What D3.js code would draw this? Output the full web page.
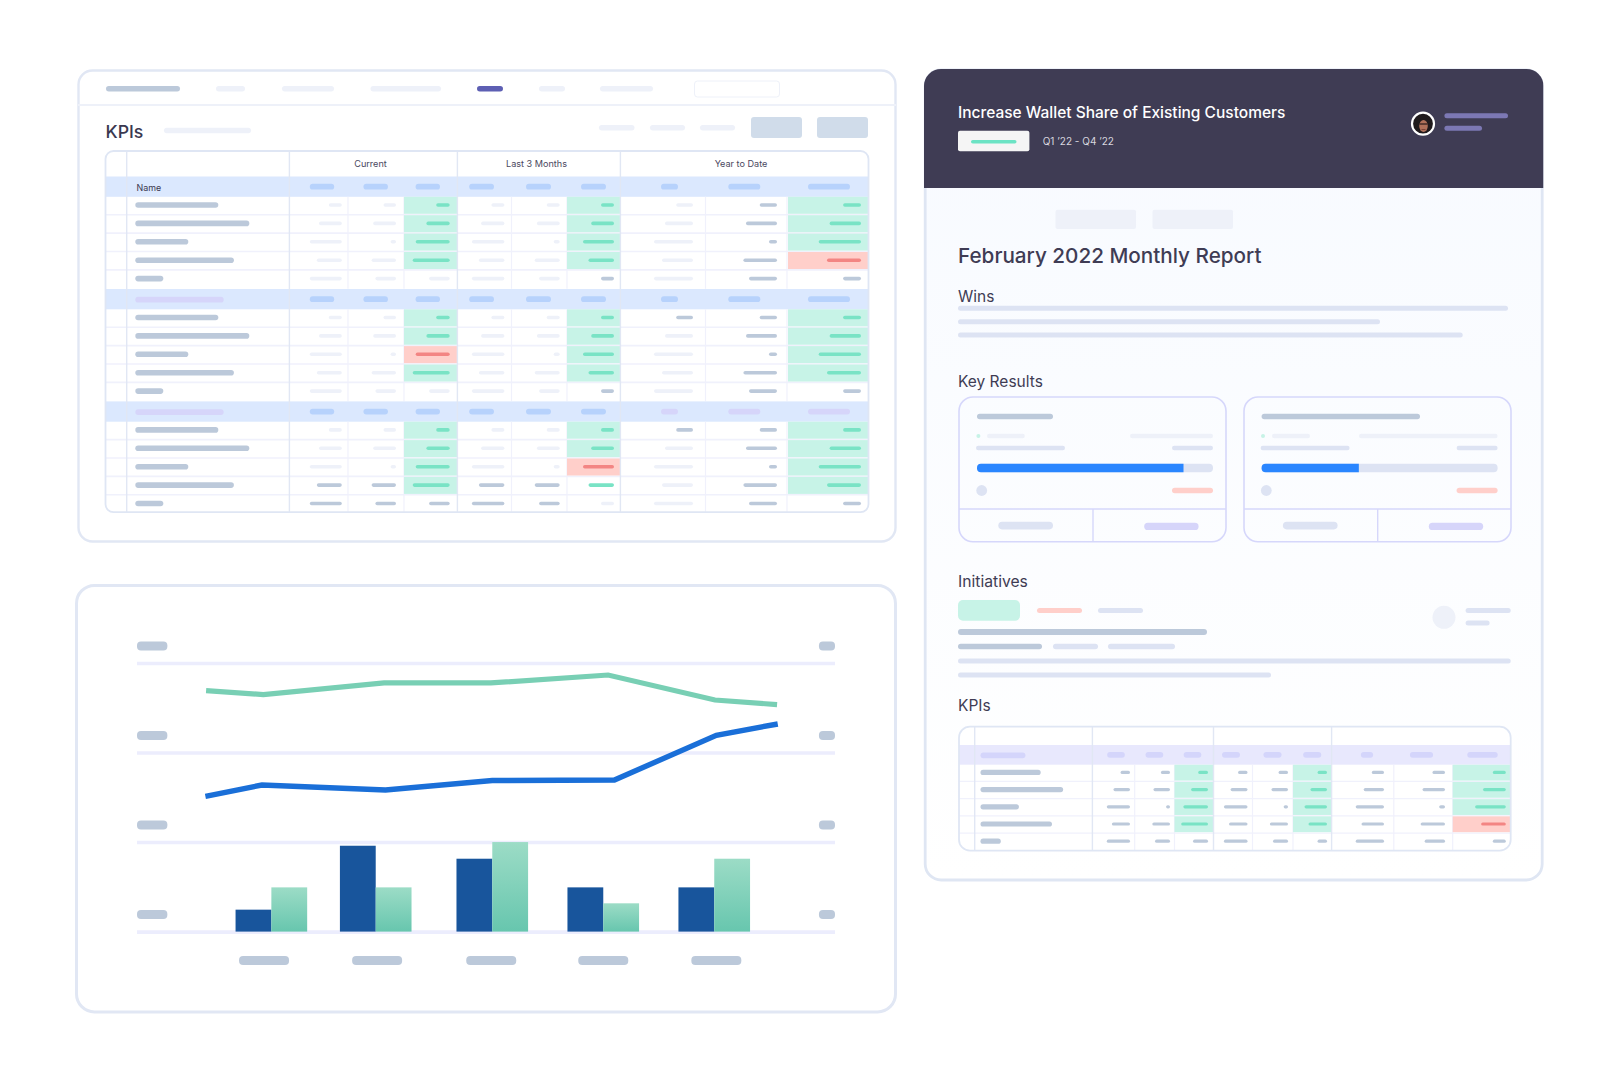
<!DOCTYPE html>
<html>
<head>
<meta charset="utf-8">
<title>KPIs</title>
<script src="https://cdn.jsdelivr.net/npm/d3@7"></script>
<style>
  html, body { margin: 0; padding: 0; background: #fff; }
  svg { display: block; }
  text { font-family: Inter, "Noto Sans", sans-serif; }
</style>
</head>
<body>
<svg id="chart" width="1620" height="1080"></svg>
<script>
// ---- data ----
var groupLabels = ["Current", "Last 3 Months", "Year to Date"];
var sectionTitles = ["Wins", "Key Results", "Initiatives", "KPIs"];

// chart panel
var yTicks = [0, 1, 2, 3];
var lineX = [9.9, 18.1, 35.4, 50.7, 67.5, 82.8, 91.7];
var blueX = [9.8, 17.9, 35.6, 50.9, 68.4, 83.0, 91.8];
var greenLine = [2.692, 2.647, 2.777, 2.777, 2.866, 2.587, 2.535];
var blueLine = [1.511, 1.637, 1.582, 1.687, 1.693, 2.193, 2.319];
var barCenters = [19.25, 34.2, 50.9, 66.8, 82.7];
var labelCenters = [18.2, 34.4, 50.75, 66.8, 83.0];
var darkBars = [0.245, 0.959, 0.814, 0.494, 0.494];
var lightBars = [0.494, 0.494, 1.0, 0.316, 0.814];

// table placeholders: text lengths per row and per column
var nameLengths = [83, 114, 53, 98.6, 28];
var cellLengths = [
  [13, 12.5, 13.5, 13, 13, 13, 16.8, 17.3, 17.9],
  [22.8, 22.8, 23.3, 23.3, 22.8, 22.8, 28, 31, 31.4],
  [32, 5.4, 34, 32.5, 6, 31, 39, 8, 42.3],
  [25, 24.4, 37, 25.5, 25, 25.5, 31, 33.6, 34],
  [32, 20.6, 20.6, 32.5, 20.6, 13, 39, 28, 17.9]
];
var headLengths = [24.4, 24.5, 24.4, 24.8, 25, 25, 17, 32, 42];

// cell states: l light, d dark, g green, r red, t teal bar with no fill
var statesA = ["llgllgldg", "llgllgldg", "llgllgldg", "llgllgldr", "llllldldd"];
var statesB = ["llgllgddg", "llgllgldg", "llrllgldg", "llgllgldg", "llllldldd"];
var statesC = ["llgllgddg", "llgllgldg", "llgllrldg", "ddgddtldg", "dddddlldd"];
var statesSmall = ["ddgddgddg", "ddgddgddg", "ddgddgddg", "ddgddgddr", "ddddddddd"];

// key result progress
var progress = [0.875, 0.412];

// ---- colours ----
var slate = "#bcc9da", pale = "#eef1f9", soft = "#dde3f3", lilac = "#d6d5fa";
var mint = "#c7f3e7", mintBar = "#79e3c5", pink = "#ffcfca", redBar = "#f38583";
var ink = "#3f3c54", edge = "#e1e7f4";

var svg = d3.select("#chart");
var defs = svg.append("defs");

function panel(x, y, w, h, r, fill, stroke, sw) {
  return svg.append("rect")
    .attr("x", x).attr("y", y).attr("width", w).attr("height", h)
    .attr("rx", r).attr("fill", fill).attr("stroke", stroke).attr("stroke-width", sw);
}

// a rounded placeholder bar, centred on yc
function pill(g, x0, x1, yc, h, fill) {
  return g.append("rect")
    .attr("x", x0).attr("y", yc - h / 2)
    .attr("width", x1 - x0).attr("height", h)
    .attr("rx", Math.min(h / 2, 3)).attr("fill", fill);
}

function label(g, str, x, y, size, weight, fill, anchor) {
  return g.append("text")
    .attr("x", x).attr("y", y)
    .attr("font-size", size).attr("font-weight", weight)
    .attr("fill", fill).attr("text-anchor", anchor || "start")
    .text(str);
}

function drawTable(o) {
  var g = svg.append("g");
  var clipId = "clip" + o.id;
  defs.append("clipPath").attr("id", clipId).append("rect")
    .attr("x", o.left).attr("y", o.top).attr("width", o.right - o.left)
    .attr("height", o.bottom - o.top).attr("rx", o.radius);

  g.append("rect")
    .attr("x", o.left).attr("y", o.top).attr("width", o.right - o.left)
    .attr("height", o.bottom - o.top).attr("rx", o.radius).attr("fill", "#fff");

  var inner = g.append("g").attr("clip-path", "url(#" + clipId + ")");
  var len = d3.scaleLinear().domain([0, 100]).range([0, 100 * o.scale]);

  o.groups.forEach(function (grp) {
    var bandBottom = grp.top + o.bandH;
    inner.append("rect")
      .attr("x", o.left).attr("y", grp.top).attr("width", o.right - o.left)
      .attr("height", o.bandH).attr("fill", o.bandFill);

    var row = d3.scaleBand().domain(d3.range(grp.states.length))
      .range([bandBottom, bandBottom + o.groupH]);

    // row rules
    d3.range(1, grp.states.length).forEach(function (i) {
      inner.append("line")
        .attr("x1", o.left).attr("x2", o.right)
        .attr("y1", row(i) - o.rowShift / 2).attr("y2", row(i) - o.rowShift / 2)
        .attr("stroke", "#f0f1fc").attr("stroke-width", o.ruleW);
    });

    // sub column rules
    o.subCols.forEach(function (x) {
      inner.append("line")
        .attr("x1", x).attr("x2", x)
        .attr("y1", bandBottom).attr("y2", bandBottom + o.groupH)
        .attr("stroke", "#f0f1fc").attr("stroke-width", 1.2);
    });

    grp.states.forEach(function (states, r) {
      var yc = row(r) + row.bandwidth() / 2 - o.rowShift;

      pill(inner, o.nameX, o.nameX + len(nameLengths[r]), yc, o.nameH, slate);

      states.split("").forEach(function (s, c) {
        if (s == "g" || s == "r") {
          inner.append("rect")
            .attr("x", o.fillEdges[c][0]).attr("y", row(r) + 0.5 - o.rowShift / 2)
            .attr("width", o.fillEdges[c][1] - o.fillEdges[c][0])
            .attr("height", row.bandwidth() - 1.4)
            .attr("fill", s == "g" ? mint : pink);
        }
        var color = { l: pale, d: slate, g: mintBar, r: redBar, t: mintBar }[s];
        pill(inner, o.barEnds[c] - len(cellLengths[r][c]), o.barEnds[c], yc, o.barH, color);
      });
    });

    // band contents
    if (grp.nameLen) {
      pill(inner, o.nameX, o.nameX + len(grp.nameLen), grp.top + o.bandH / 2 + 0.5, 5.8, grp.nameFill);
    }
    o.headCenters.forEach(function (cx, c) {
      var w = len(headLengths[c]);
      var f = c >= 6 && grp.tailFill ? grp.tailFill : grp.headFill;
      pill(inner, cx - w / 2, cx + w / 2, grp.top + o.bandH / 2, 5.8, f);
    });
  });

  // main column rules
  o.mainCols.forEach(function (x) {
    inner.append("line")
      .attr("x1", x).attr("x2", x).attr("y1", o.top).attr("y2", o.bottom)
      .attr("stroke", edge).attr("stroke-width", 1.4);
  });

  g.append("rect")
    .attr("x", o.left).attr("y", o.top).attr("width", o.right - o.left)
    .attr("height", o.bottom - o.top).attr("rx", o.radius)
    .attr("fill", "none").attr("stroke", "#dfe6f4").attr("stroke-width", 1.8);
  return g;
}

// ---- panel 1: KPI table ----
panel(78.5, 70.5, 817, 471, 14, "#fff", edge, 2.4);
var top1 = svg.append("g");
top1.append("line").attr("x1", 78).attr("x2", 896).attr("y1", 105).attr("y2", 105)
  .attr("stroke", "#eef1f9").attr("stroke-width", 2);
pill(top1, 106, 180, 88.7, 5.5, slate);
pill(top1, 216, 245, 88.7, 5.5, pale);
pill(top1, 282, 334, 88.7, 5.5, pale);
pill(top1, 370.5, 441, 88.7, 5.5, pale);
pill(top1, 477, 503, 88.7, 5.5, "#5d5fb3");
pill(top1, 539, 565, 88.7, 5.5, pale);
pill(top1, 600, 653, 88.7, 5.5, pale);
top1.append("rect").attr("x", 694.5).attr("y", 81).attr("width", 85).attr("height", 16)
  .attr("rx", 3).attr("fill", "#fff").attr("stroke", "#eef1f9").attr("stroke-width", 1);
label(top1, "KPIs", 105.5, 137.5, 17.7, 500, "#3a3850");
pill(top1, 164, 251, 130.5, 5.5, pale);
pill(top1, 599, 634.5, 127.8, 5.5, pale);
pill(top1, 650, 685, 127.8, 5.5, pale);
pill(top1, 700, 735, 127.8, 5.5, pale);
[[751, 802], [817, 868]].forEach(function (b) {
  top1.append("rect").attr("x", b[0]).attr("y", 117).attr("width", b[1] - b[0]).attr("height", 21)
    .attr("rx", 3).attr("fill", "#d0dcea");
});

var bandBlue = "#dbe8fe", headBlue = "#b7d2fc";
var bigTable = drawTable({
  id: "Big", left: 105.5, right: 868.5, top: 151, bottom: 512.2, radius: 8,
  scale: 1, bandH: 20.3, groupH: 92, rowShift: 1.0, nameX: 135.3, nameH: 5.6, barH: 3.6, ruleW: 1.6,
  bandFill: bandBlue,
  groups: [
    { top: 176.5, states: statesA, headFill: headBlue, nameLen: 0 },
    { top: 289, states: statesB, headFill: headBlue, nameLen: 88.4, nameFill: lilac },
    { top: 401.4, states: statesC, headFill: headBlue, tailFill: lilac, nameLen: 88.4, nameFill: lilac }
  ],
  mainCols: [126.7, 289.4, 457.4, 620.4],
  subCols: [348, 404, 511.5, 567, 705.5, 787],
  barEnds: [341.8, 396, 449.7, 504.4, 559.7, 614, 693, 777, 861],
  headCenters: [322, 375.7, 427.8, 481.6, 538.5, 593.5, 669.5, 744.3, 829],
  fillEdges: [[], [], [404, 457], [], [], [567, 620], [], [], [788, 868.5]]
});
label(bigTable, groupLabels[0], 370.5, 167.3, 9.1, 400, "#4a4860", "middle");
label(bigTable, groupLabels[1], 536.5, 167.3, 9.1, 400, "#4a4860", "middle");
label(bigTable, groupLabels[2], 741, 167.3, 9.1, 400, "#4a4860", "middle");
label(bigTable, "Name", 136.5, 190.7, 8.9, 400, "#3a3850");

// ---- panel 2: the chart ----
panel(76.5, 585.4, 819, 426.5, 18, "#fff", edge, 3);

var grad = defs.append("linearGradient").attr("id", "barGrad")
  .attr("x1", 0).attr("y1", 0).attr("x2", 0).attr("y2", 1);
grad.append("stop").attr("offset", "0%").attr("stop-color", "#9cdcc6");
grad.append("stop").attr("offset", "100%").attr("stop-color", "#67c6ae");

var x = d3.scaleLinear().domain([0, 100]).range([137, 835]);
var y = d3.scaleLinear().domain([0, 3]).range([931.6, 663]);
var barW = 5.13;

var plot = svg.append("g");

var grid = plot.append("g").attr("transform", "translate(137,0)")
  .call(d3.axisLeft(y).tickValues(yTicks).tickSize(-698).tickFormat(""));
grid.select(".domain").remove();
grid.selectAll("line").attr("stroke", "#ecedfd").attr("stroke-width", 3.6);

// y tick placeholders, left and right
plot.selectAll("rect.ly").data(yTicks).enter().append("rect").attr("class", "ly")
  .attr("x", x(0)).attr("y", function (d) { return y(d) - 21.5; })
  .attr("width", x(4.35) - x(0)).attr("height", 9).attr("rx", 4).attr("fill", slate);
plot.selectAll("rect.ry").data(yTicks).enter().append("rect").attr("class", "ry")
  .attr("x", x(97.7)).attr("y", function (d) { return y(d) - 21.5; })
  .attr("width", x(100) - x(97.7)).attr("height", 9).attr("rx", 4).attr("fill", slate);

plot.selectAll("rect.dark").data(darkBars).enter().append("rect").attr("class", "dark")
  .attr("x", function (d, i) { return x(barCenters[i] - barW); })
  .attr("y", function (d) { return y(d); })
  .attr("width", x(barW) - x(0))
  .attr("height", function (d) { return y(0) - y(d); })
  .attr("fill", "#18559c");

plot.selectAll("rect.light").data(lightBars).enter().append("rect").attr("class", "light")
  .attr("x", function (d, i) { return x(barCenters[i]); })
  .attr("y", function (d) { return y(d); })
  .attr("width", x(barW) - x(0))
  .attr("height", function (d) { return y(0) - y(d); })
  .attr("fill", "url(#barGrad)");

plot.selectAll("rect.xl").data(labelCenters).enter().append("rect").attr("class", "xl")
  .attr("x", function (d) { return x(d) - 25; })
  .attr("y", 956).attr("width", 50).attr("height", 9).attr("rx", 4).attr("fill", slate);

var lineGreen = d3.line()
  .x(function (d, i) { return x(lineX[i]); })
  .y(function (d) { return y(d); });
var lineBlue = d3.line()
  .x(function (d, i) { return x(blueX[i]); })
  .y(function (d) { return y(d); });

plot.append("path").datum(greenLine).attr("d", lineGreen)
  .attr("fill", "none").attr("stroke", "#78cfb4").attr("stroke-width", 5.2);
plot.append("path").datum(blueLine).attr("d", lineBlue)
  .attr("fill", "none").attr("stroke", "#1a6fd8").attr("stroke-width", 5.4);

// ---- panel 3: monthly report ----
var bodyGrad = defs.append("linearGradient").attr("id", "bodyGrad")
  .attr("x1", 0).attr("y1", 0).attr("x2", 0).attr("y2", 1);
bodyGrad.append("stop").attr("offset", "0%").attr("stop-color", "#f7faff");
bodyGrad.append("stop").attr("offset", "100%").attr("stop-color", "#ffffff");

panel(925.2, 70, 617, 810, 16, "url(#bodyGrad)", "#dfe6f3", 2.8);
defs.append("clipPath").attr("id", "headClip").append("rect")
  .attr("x", 924).attr("y", 69).attr("width", 619.5).attr("height", 200).attr("rx", 17);
svg.append("rect").attr("x", 924).attr("y", 69).attr("width", 619.5).attr("height", 119)
  .attr("fill", ink).attr("clip-path", "url(#headClip)");

var rep = svg.append("g");
label(rep, "Increase Wallet Share of Existing Customers", 958, 118, 15.5, 500, "#ffffff");
rep.append("rect").attr("x", 958).attr("y", 130.7).attr("width", 71.4).attr("height", 20.6)
  .attr("rx", 2).attr("fill", "#f5f5f5");
pill(rep, 971, 1016.5, 141.7, 3.5, "#6ce3c4");
label(rep, "Q1 \u201922 - Q4 \u201922", 1042.7, 144.7, 10, 400, "#d7d6df");

// avatar
rep.append("circle").attr("cx", 1423).attr("cy", 123.7).attr("r", 11).attr("fill", "#1f1a1c")
  .attr("stroke", "#fff").attr("stroke-width", 2.2);
rep.append("ellipse").attr("cx", 1423.5).attr("cy", 126).attr("rx", 4.3).attr("ry", 6).attr("fill", "#b0715a");
rep.append("rect").attr("x", 1419.5).attr("y", 123.4).attr("width", 8).attr("height", 1.2).attr("fill", "#2a1c1c");
rep.append("rect").attr("x", 1421.5).attr("y", 129).attr("width", 4).attr("height", 1).attr("fill", "#7e4436");

pill(rep, 1444.4, 1508, 115.7, 5, "#7c78b4");
pill(rep, 1444.4, 1482, 128.3, 5, "#7c78b4");

rep.append("rect").attr("x", 1055.5).attr("y", 209.7).attr("width", 80.5).attr("height", 19.3).attr("rx", 2).attr("fill", "#eef1f9");
rep.append("rect").attr("x", 1152.5).attr("y", 209.7).attr("width", 80.5).attr("height", 19.3).attr("rx", 2).attr("fill", "#eef1f9");

label(rep, "February 2022 Monthly Report", 958, 263, 20.7, 500, ink);
label(rep, sectionTitles[0], 958, 302, 15.5, 400, ink);
pill(rep, 958, 1508, 308.3, 5, soft);
pill(rep, 958, 1380, 321.7, 5, soft);
pill(rep, 958, 1462.7, 335, 5, soft);

label(rep, sectionTitles[1], 958, 387.3, 15.5, 400, ink);

var bar = d3.scaleLinear().domain([0, 1]).range([0, 236]);
var cards = [
  { l: 959, vline: 1093, title: 76, lab: 987, lab2: 1024.8, r1: 1130 },
  { l: 1244, vline: 1377.7, title: 158.4, lab: 1272, lab2: 1310, r1: 1359 }
];
cards.forEach(function (c, i) {
  var d = i ? 284.6 : 0;
  rep.append("rect").attr("x", c.l).attr("y", 397).attr("width", 267).attr("height", 144.7)
    .attr("rx", 14).attr("fill", "none").attr("stroke", "#d6d7fb").attr("stroke-width", 1.6);
  rep.append("line").attr("x1", c.l).attr("x2", c.l + 267).attr("y1", 509).attr("y2", 509)
    .attr("stroke", "#d6d7fb").attr("stroke-width", 1.6);
  rep.append("line").attr("x1", c.vline).attr("x2", c.vline).attr("y1", 509).attr("y2", 541.7)
    .attr("stroke", "#d6d7fb").attr("stroke-width", 1.4);

  pill(rep, 977 + d, 977 + d + c.title, 416.4, 5.5, slate);
  rep.append("circle").attr("cx", 978.4 + d).attr("cy", 436).attr("r", 2).attr("fill", mint);
  pill(rep, c.lab, c.lab2, 436, 4.5, pale);
  pill(rep, c.r1, 1213 + d, 436, 4.5, pale);
  pill(rep, 976 + d, 1065 + d, 448, 4.5, soft);
  pill(rep, 1172 + d, 1213 + d, 448, 4.5, soft);

  pill(rep, 977 + d, 977 + d + bar(1), 468, 8.6, soft).attr("rx", 4);
  var bl = 977 + d, bw = bar(progress[i]);
  rep.append("path").attr("fill", "#2a86ff")
    .attr("d", "M" + (bl + bw) + ",463.7H" + (bl + 4) + "a4,4 0 0 0 -4,4v0.6a4,4 0 0 0 4,4H" + (bl + bw) + "Z");

  rep.append("ellipse").attr("cx", 981.7 + d).attr("cy", 490.5).attr("rx", 5.4).attr("ry", 5.4).attr("fill", soft);
  pill(rep, 1172 + d, 1213 + d, 490.5, 5.5, pink);
  pill(rep, 998.3 + d, 1053 + d, 525.6, 7.6, soft).attr("rx", 3.8);
  pill(rep, 1144.2 + d, 1198.6 + d, 526.4, 7.4, lilac).attr("rx", 3.7);
});

label(rep, sectionTitles[2], 958, 587.3, 15.7, 400, ink);
rep.append("rect").attr("x", 958).attr("y", 600).attr("width", 62).attr("height", 20.7).attr("rx", 5).attr("fill", mint);
pill(rep, 1037, 1082, 610.5, 5, pink);
pill(rep, 1098, 1143, 610.5, 5, soft);
rep.append("circle").attr("cx", 1444).attr("cy", 617.3).attr("r", 11.5).attr("fill", pale);
pill(rep, 1465.6, 1510.7, 610.5, 5, soft);
pill(rep, 1465.6, 1489.6, 623, 5, soft);
pill(rep, 958, 1207, 632, 6, slate);
pill(rep, 958, 1042, 646.5, 5.5, slate);
pill(rep, 1053, 1098, 646.5, 5.5, soft);
pill(rep, 1108, 1175, 646.5, 5.5, soft);
pill(rep, 958, 1510.7, 661, 5, soft);
pill(rep, 958, 1271, 675, 5, soft);

label(rep, sectionTitles[3], 958, 711, 15.5, 400, ink);

drawTable({
  id: "Small", left: 959, right: 1510.7, top: 726.7, bottom: 850.7, radius: 11,
  scale: 0.725, bandH: 19.7, groupH: 86, rowShift: 0.9, nameX: 980.5, nameH: 5.2, barH: 3.2, ruleW: 1.2,
  bandFill: "#e8e8fd",
  groups: [
    { top: 745, states: statesSmall, headFill: "#d4d5fb", nameLen: 62, nameFill: "#d4d5fb" }
  ],
  mainCols: [974.7, 1092.4, 1213.5, 1331.6],
  subCols: [1134.7, 1174.5, 1252.5, 1293, 1393.8, 1452.7],
  barEnds: [1130, 1170, 1208, 1247.5, 1288, 1327, 1384, 1445, 1505.8],
  headCenters: [1116, 1154.4, 1192.5, 1231, 1272.5, 1312.2, 1367, 1421.5, 1482.5],
  fillEdges: [[], [], [1174.5, 1213.5], [], [], [1293, 1331.6], [], [], [1452.7, 1510.7]]
});
</script>
</body>
</html>
